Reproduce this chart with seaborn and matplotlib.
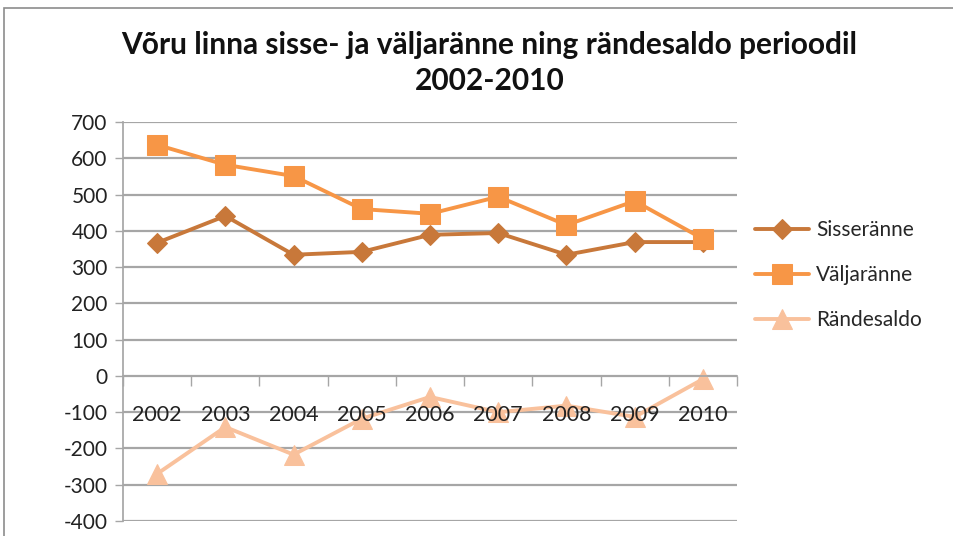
import numpy as np
import pandas as pd
import seaborn as sns
import matplotlib.pyplot as plt
from matplotlib.patches import Rectangle
from matplotlib.ticker import FixedLocator

# Data
years = [2002, 2003, 2004, 2005, 2006, 2007, 2008, 2009, 2010]
sisseranne = [367, 441, 334, 342, 389, 394, 334, 369, 369]
valjaranne = [637, 582, 551, 460, 447, 494, 416, 482, 378]
randesaldo = [-270, -141, -217, -118, -58, -100, -82, -113, -9]

series_names = ["Sisseränne", "Väljaränne", "Rändesaldo"]
colors = ["#C8783A", "#F79646", "#F9C19C"]
markers = ["D", "s", "^"]
msizes = [10, 14, 15]

df = pd.DataFrame({
    "aasta": years * 3,
    "väärtus": sisseranne + valjaranne + randesaldo,
    "seeria": [series_names[0]] * 9 + [series_names[1]] * 9 + [series_names[2]] * 9,
})

sns.set_theme(style="white")
plt.rcParams["font.family"] = ["Lato", "DejaVu Sans"]
plt.rcParams["axes.unicode_minus"] = False

fig = plt.figure(figsize=(9.54, 5.36), dpi=100)
ax = fig.add_axes([123 / 954, 1 - 521 / 536, (737 - 123) / 954, (521 - 122) / 536])

yticks = np.arange(-400, 701, 100)
for yv in yticks:
    ax.axhline(yv, color="#A6A6A6", linewidth=1.6, zorder=0.5)

for name, col, mk, ms in zip(series_names, colors, markers, msizes):
    sub = df[df["seeria"] == name]
    sns.lineplot(data=sub, x="aasta", y="väärtus", ax=ax, color=col, marker=mk,
                 markersize=ms, markeredgecolor=col, linewidth=2.8, label=name)

ax.set_axisbelow(False)
ax.set_xlim(2001.5, 2010.5)
ax.set_ylim(-400, 700)
ax.set_yticks(yticks)
ax.tick_params(axis="y", labelsize=15, colors="#A6A6A6", labelcolor="#222222",
               length=6, width=1, left=True, pad=5)

# x axis crosses at 0, ticks at category boundaries, labels under them
ax.spines["bottom"].set_position(("data", 0))
ax.spines["bottom"].set_color("#A6A6A6")
ax.spines["left"].set_color("#A6A6A6")
ax.spines["top"].set_visible(False)
ax.spines["right"].set_visible(False)
ax.xaxis.set_major_locator(FixedLocator(np.arange(2001.5, 2011, 1)))
ax.xaxis.set_major_formatter(plt.NullFormatter())
ax.xaxis.set_minor_locator(FixedLocator(years))
ax.set_xticklabels([str(y) for y in years], minor=True)
ax.tick_params(axis="x", which="major", bottom=True, length=7, width=1, colors="#A6A6A6")
ax.tick_params(axis="x", which="minor", bottom=True, length=0, labelsize=15.5,
               labelcolor="#222222", pad=21)
ax.set_xlabel("")
ax.set_ylabel("")

leg = ax.legend(loc="center left", bbox_to_anchor=(1.029, 0.617), frameon=False,
                fontsize=15, handlelength=2.6, labelspacing=1.2, handletextpad=0.35,
                borderpad=0, borderaxespad=0)

fig.text(0.513, 1 - 45 / 536, "Võru linna sisse- ja väljaränne ning rändesaldo perioodil",
         ha="center", va="center", fontsize=21.5, fontweight="bold", color="#111111")
fig.text(0.513, 1 - 81 / 536, "2002-2010", ha="center", va="center",
         fontsize=21.5, fontweight="bold", color="#111111")

fig.patches.append(Rectangle((4 / 954, -0.05), 1.1, 1 - 8 / 536 + 0.05,
                             transform=fig.transFigure, fill=False,
                             edgecolor="#8C8C8C", linewidth=1.2))

fig.savefig("out.png", dpi=100)
